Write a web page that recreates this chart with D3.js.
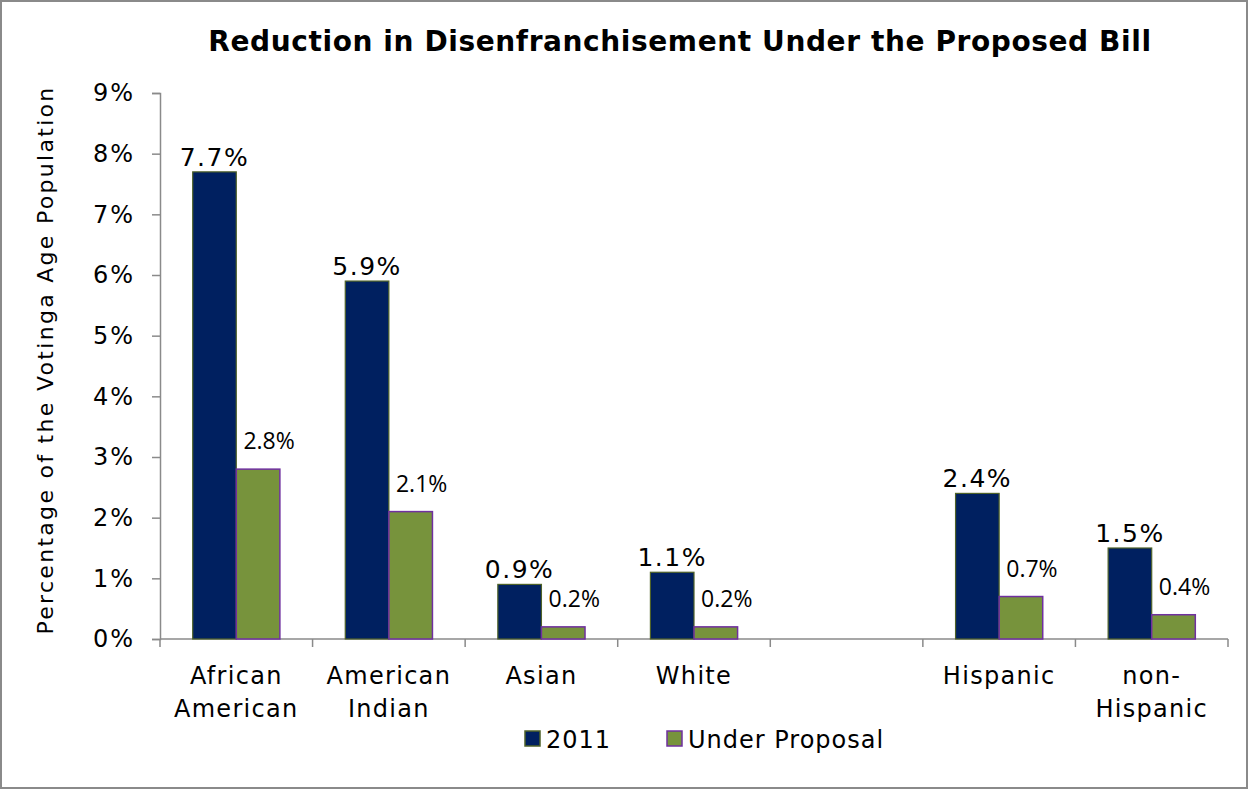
<!DOCTYPE html>
<html>
<head>
<meta charset="utf-8">
<script src="https://cdn.jsdelivr.net/npm/d3@7"></script>
<style>
  html, body { margin: 0; padding: 0; background: #fff; }
  svg { display: block; }
</style>
</head>
<body>
<svg id="chart" width="1249" height="790"></svg>
<script>
// Category keys (one empty slot separates race groups from ethnicity groups)
const categories = ["African American", "American Indian", "Asian", "White", "gap", "Hispanic", "non-Hispanic"];
const categoryLabels = [["African", "American"], ["American", "Indian"], ["Asian"], ["White"], [], ["Hispanic"], ["non-", "Hispanic"]];
const values2011 = [7.7, 5.9, 0.9, 1.1, null, 2.4, 1.5];
const valuesProposal = [2.8, 2.1, 0.2, 0.2, null, 0.7, 0.4];
const seriesNames = ["2011", "Under Proposal"];
const yTicks = [0, 1, 2, 3, 4, 5, 6, 7, 8, 9];

const svg = d3.select("#chart");
const W = 1249, H = 790;
const plot = { left: 160, right: 1228, top: 93, bottom: 639 };
const mainFont = "'DejaVu Sans', Verdana, sans-serif";
const navy = "#002060", green = "#77933C";

// outer frame
svg.append("rect").attr("x", 1).attr("y", 1).attr("width", W - 3).attr("height", H - 3)
  .attr("fill", "#fff").attr("stroke", "#8a8a8a").attr("stroke-width", 2);

const x = d3.scaleBand().domain(categories).range([plot.left, plot.right]).padding(0);
const y = d3.scaleLinear().domain([0, 9]).range([plot.bottom, plot.top]);
const barW = x.bandwidth() / 3.5;
const inner = d3.scaleBand().domain(seriesNames).range([0, barW * 2]);

// title
svg.append("text").attr("x", 680).attr("y", 51).attr("text-anchor", "middle")
  .attr("font-family", mainFont).attr("font-weight", "bold").attr("font-size", 28)
  .attr("letter-spacing", 0.6)
  .attr("fill", "#000").text("Reduction in Disenfranchisement Under the Proposed Bill");

// y axis
const yAxis = d3.axisLeft(y).tickValues(yTicks).tickFormat(d => d + "%").tickSize(8).tickPadding(17);
const gy = svg.append("g").attr("transform", `translate(${plot.left},0)`).call(yAxis);
gy.select(".domain").attr("stroke", "#8a8a8a").attr("stroke-width", 1.5);
gy.selectAll(".tick line").attr("stroke", "#8a8a8a").attr("stroke-width", 1.5);
gy.selectAll(".tick text").attr("font-family", mainFont).attr("font-size", 24)
  .attr("letter-spacing", 2).attr("fill", "#000");

// x axis line with boundary ticks
const boundaries = categories.map(c => x(c)).concat([plot.right]);
svg.append("line").attr("x1", plot.left).attr("x2", plot.right).attr("y1", plot.bottom).attr("y2", plot.bottom)
  .attr("stroke", "#8a8a8a").attr("stroke-width", 1.5);
svg.selectAll(".xtick").data(boundaries).join("line").attr("class", "xtick")
  .attr("x1", d => d).attr("x2", d => d).attr("y1", plot.bottom).attr("y2", plot.bottom + 8)
  .attr("stroke", "#8a8a8a").attr("stroke-width", 1.5);

// category labels
const catG = svg.selectAll(".cat").data(categories).join("text").attr("class", "cat")
  .attr("text-anchor", "middle").attr("font-family", mainFont).attr("font-size", 24)
  .attr("letter-spacing", 1.3).attr("fill", "#000");
catG.each(function(c, i) {
  const t = d3.select(this);
  categoryLabels[i].forEach((line, j) => {
    t.append("tspan").attr("x", x(c) + x.bandwidth() / 2).attr("y", 684 + j * 33).text(line);
  });
});

// bars
const groupStart = c => x(c) + (x.bandwidth() - barW * 2) / 2;
const rows = categories.map((c, i) => ({ c, v1: values2011[i], v2: valuesProposal[i] })).filter(d => d.v1 != null);

svg.selectAll(".bar2011").data(rows).join("rect").attr("class", "bar2011")
  .attr("x", d => groupStart(d.c) + inner("2011")).attr("width", inner.bandwidth())
  .attr("y", d => y(d.v1)).attr("height", d => y(0) - y(d.v1))
  .attr("fill", navy).attr("stroke", "#4F6228").attr("stroke-width", 1.2);

svg.selectAll(".barProp").data(rows).join("rect").attr("class", "barProp")
  .attr("x", d => groupStart(d.c) + inner("Under Proposal")).attr("width", inner.bandwidth())
  .attr("y", d => y(d.v2)).attr("height", d => y(0) - y(d.v2))
  .attr("fill", green).attr("stroke", "#7030A0").attr("stroke-width", 1.5);

// value labels
svg.selectAll(".lab2011").data(rows).join("text").attr("class", "lab2011")
  .attr("x", d => groupStart(d.c) + inner("2011") + inner.bandwidth() / 2)
  .attr("y", d => y(d.v1) - 6).attr("text-anchor", "middle")
  .attr("font-family", mainFont).attr("font-size", 25).attr("letter-spacing", 1.5).attr("fill", "#000")
  .text(d => d.v1.toFixed(1) + "%");

svg.selectAll(".labProp").data(rows).join("text").attr("class", "labProp")
  .attr("x", d => groupStart(d.c) + inner("Under Proposal") + inner.bandwidth() / 2 + 11)
  .attr("y", d => y(d.v2) - 20).attr("text-anchor", "middle")
  .attr("font-family", "'Open Sans', sans-serif").attr("font-size", 23).attr("fill", "#000")
  .text(d => d.v2.toFixed(1) + "%");

// legend
const legend = [
  { name: seriesNames[0], fill: navy, stroke: "#4F6228", x: 525 },
  { name: seriesNames[1], fill: green, stroke: "#7030A0", x: 667 }
];
const lg = svg.selectAll(".leg").data(legend).join("g").attr("class", "leg")
  .attr("transform", d => `translate(${d.x},731)`);
lg.append("rect").attr("width", 15).attr("height", 15)
  .attr("fill", d => d.fill).attr("stroke", d => d.stroke).attr("stroke-width", 1.5);
lg.append("text").attr("x", 21).attr("y", 17).attr("font-family", mainFont).attr("font-size", 24)
  .attr("letter-spacing", 1).attr("fill", "#000").text(d => d.name);

// y axis title
svg.append("text").attr("transform", "translate(53,360) rotate(-90)").attr("text-anchor", "middle")
  .attr("font-family", mainFont).attr("font-size", 22).attr("letter-spacing", 2.3).attr("fill", "#000")
  .text("Percentage of the Votinga Age Population");
</script>
</body>
</html>
